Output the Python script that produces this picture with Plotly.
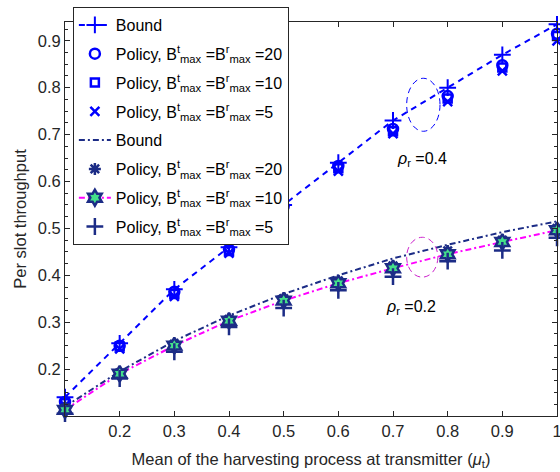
import plotly.graph_objects as go

x = [0.1, 0.2, 0.3, 0.4, 0.5, 0.6, 0.7, 0.8, 0.9, 1.0]

bound_04 = [0.14, 0.255, 0.37, 0.46, 0.55, 0.64, 0.73, 0.80, 0.87, 0.935]
pol04_b20 = [0.13, 0.25, 0.365, 0.455, 0.547, 0.633, 0.712, 0.782, 0.848, 0.915]
pol04_b10 = [0.127, 0.248, 0.36, 0.452, 0.543, 0.628, 0.707, 0.777, 0.843, 0.91]
pol04_b5 = [0.122, 0.243, 0.355, 0.447, 0.538, 0.622, 0.702, 0.77, 0.836, 0.9]

bound_02 = [0.12, 0.195, 0.26, 0.314, 0.36, 0.40, 0.436, 0.465, 0.492, 0.515]
pol02_b20 = [0.117, 0.192, 0.253, 0.306, 0.35, 0.388, 0.42, 0.452, 0.475, 0.5]
pol02_b10 = [0.113, 0.19, 0.25, 0.303, 0.346, 0.383, 0.415, 0.445, 0.471, 0.496]
pol02_b5 = [0.105, 0.18, 0.237, 0.29, 0.33, 0.368, 0.397, 0.43, 0.453, 0.48]

x_ticks = [0.2, 0.3, 0.4, 0.5, 0.6, 0.7, 0.8, 0.9, 1.0]
x_ticklabels = ["0.2", "0.3", "0.4", "0.5", "0.6", "0.7", "0.8", "0.9", "1"]
y_ticks = [0.2, 0.3, 0.4, 0.5, 0.6, 0.7, 0.8, 0.9]

BLUE = "#0000ff"
NAVY = "#1c2c86"
MAG = "#ff00ff"
GREEN = "#44e08a"
LEG = "Policy, B<sup>t</sup><sub>max</sub> =B<sup>r</sup><sub>max</sub> ="

fig = go.Figure()
fig.add_trace(go.Scatter(x=x, y=bound_04, mode="lines+markers", name="Bound", legendgroup="g1",
                         line=dict(color=BLUE, width=2, dash="6px,5px"),
                         marker=dict(symbol="cross-thin-open", size=12, line=dict(color=BLUE, width=2))))
fig.add_trace(go.Scatter(x=x, y=pol04_b20, mode="markers", name=LEG + "20", legendgroup="g2",
                         marker=dict(symbol="circle-open", size=10, color=BLUE, line=dict(color=BLUE, width=2.5))))
fig.add_trace(go.Scatter(x=x, y=pol04_b10, mode="markers", name=LEG + "10", legendgroup="g3",
                         marker=dict(symbol="square-open", size=8, color=BLUE, line=dict(color=BLUE, width=2.5))))
fig.add_trace(go.Scatter(x=x, y=pol04_b5, mode="markers", name=LEG + "5", legendgroup="g4",
                         marker=dict(symbol="x-thin-open", size=9, color=BLUE, line=dict(color=BLUE, width=2.5))))
fig.add_trace(go.Scatter(x=x, y=bound_02, mode="lines", name="Bound", legendgroup="g5",
                         line=dict(color=NAVY, width=2, dash="6px,3px,2px,3px")))
fig.add_trace(go.Scatter(x=x, y=pol02_b20, mode="markers", name=LEG + "20", legendgroup="g6",
                         marker=dict(symbol="asterisk-open", size=10, color=NAVY, line=dict(color=NAVY, width=2.5))))
fig.add_trace(go.Scatter(x=x, y=pol02_b10, mode="lines+markers", name=LEG + "10", legendgroup="g7",
                         line=dict(color=MAG, width=2, dash="6px,3px,2px,3px"),
                         marker=dict(symbol="hexagram", size=12, color=GREEN, line=dict(color=NAVY, width=2.5))))
fig.add_trace(go.Scatter(x=x, y=pol02_b5, mode="markers", name=LEG + "5", legendgroup="g8",
                         marker=dict(symbol="cross-thin-open", size=12, color=NAVY, line=dict(color=NAVY, width=2.5))))
fig.update_traces(cliponaxis=False)

fig.add_shape(type="circle", xref="x", yref="y", x0=0.725, x1=0.786, y0=0.707, y1=0.82,
              line=dict(color=BLUE, width=1, dash="6px,4px"))
fig.add_shape(type="circle", xref="x", yref="y", x0=0.725, x1=0.782, y0=0.396, y1=0.481,
              line=dict(color="#cc22cc", width=1, dash="6px,4px"))

fig.add_annotation(x=0.703, y=0.646, xref="x", yref="y", xanchor="left", showarrow=False,
                   text="<i>ρ</i><sub>r</sub> =0.4", font=dict(size=16, color="black"))
fig.add_annotation(x=0.683, y=0.332, xref="x", yref="y", xanchor="left", showarrow=False,
                   text="<i>ρ</i><sub>r</sub> =0.2", font=dict(size=16, color="black"))

axcol = "#262626"
fig.update_layout(
    width=560, height=472,
    margin=dict(l=65, r=3, t=22, b=56, autoexpand=False),
    paper_bgcolor="white", plot_bgcolor="white",
    font=dict(family="Liberation Sans, Arial, sans-serif", size=16, color=axcol),
    showlegend=True,
    legend=dict(x=0.016, y=0.434, xanchor="left", yanchor="bottom",
                bgcolor="white", bordercolor=axcol, borderwidth=1,
                font=dict(size=16, color="black"), tracegroupgap=5, itemwidth=32),
)
fig.update_xaxes(range=[0.1, 1.0], tickvals=x_ticks, ticktext=x_ticklabels,
                 showline=True, linecolor=axcol, linewidth=1, mirror="ticks",
                 ticks="inside", ticklen=5, tickcolor=axcol, showgrid=False, zeroline=False,
                 tickfont=dict(size=16.5), ticklabeloverflow="allow",
                 title=dict(text="Mean of the harvesting process at transmitter (<i>μ</i><sub>t</sub>)",
                            font=dict(size=16.5), standoff=14))
fig.update_yaxes(range=[0.1, 0.94], tickvals=y_ticks,
                 showline=True, linecolor=axcol, linewidth=1, mirror="ticks",
                 ticks="inside", ticklen=5, tickcolor=axcol, showgrid=False, zeroline=False,
                 tickfont=dict(size=16.5),
                 minor=dict(dtick=0.025, tick0=0.1, ticks="inside", ticklen=3, tickcolor=axcol, showgrid=False),
                 title=dict(text="Per slot throughput", font=dict(size=16.5), standoff=6))

fig.write_html("out.html", config={"displayModeBar": False},
               post_script="document.body.style.margin='0';")
